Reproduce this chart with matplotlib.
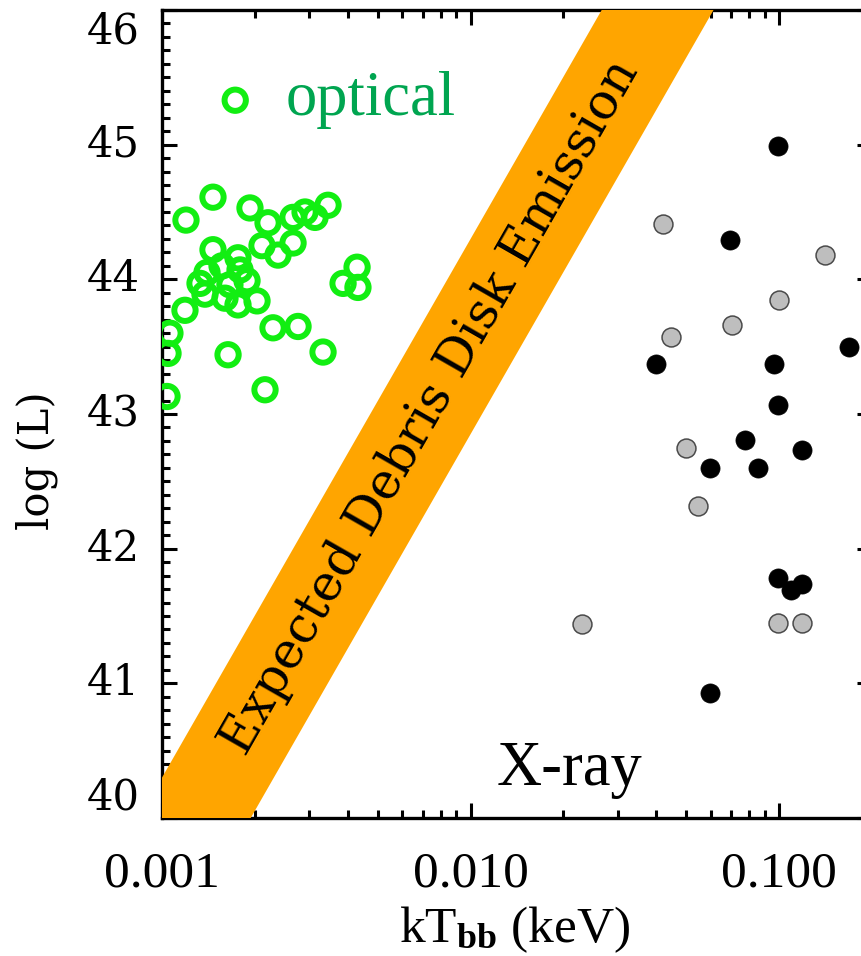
import numpy as np
import matplotlib
matplotlib.use("Agg")
import matplotlib.pyplot as plt
from matplotlib.ticker import FixedLocator, MultipleLocator, NullFormatter, FuncFormatter
from matplotlib.transforms import blended_transform_factory

plt.rcParams["mathtext.fontset"] = "custom"
plt.rcParams["mathtext.rm"] = "Liberation Serif"
plt.rcParams["mathtext.it"] = "Liberation Serif:italic"
plt.rcParams["mathtext.bf"] = "Liberation Serif:bold"

# optical blackbody fits (kT in keV, log L)
optical_kT = [0.001727, 0.001463, 0.001196, 0.001928, 0.002206, 0.002659, 0.002908,
              0.003133, 0.003452, 0.001463, 0.001763, 0.002109, 0.002377, 0.002659,
              0.004287, 0.003862, 0.004316, 0.001187, 0.001061, 0.002290, 0.002760,
              0.001046, 0.001637, 0.003326, 0.001038, 0.002157, 0.001328, 0.001399,
              0.001565, 0.001790, 0.001886, 0.001378, 0.001600, 0.001763, 0.002032,
              0.001660]
optical_logL = [45.33, 44.61, 44.44, 44.53, 44.42, 44.46, 44.50,
                44.46, 44.55, 44.22, 44.16, 44.25, 44.18, 44.27,
                44.09, 43.97, 43.94, 43.77, 43.60, 43.64, 43.65,
                43.45, 43.44, 43.46, 43.13, 43.18, 43.97, 44.05,
                44.10, 44.07, 43.99, 43.89, 43.86, 43.81, 43.84,
                43.96]

# X-ray blackbody fits, two samples
xray_black_kT = [0.0995, 0.0693, 0.1687, 0.0398, 0.0964, 0.0993, 0.0776,
                 0.1190, 0.0597, 0.0853, 0.0995, 0.1090, 0.1190, 0.0597]
xray_black_logL = [44.99, 44.29, 43.50, 43.37, 43.37, 43.07, 42.81,
                   42.73, 42.60, 42.60, 41.78, 41.69, 41.74, 40.93]

xray_gray_kT = [0.0419, 0.1410, 0.1002, 0.0706, 0.0447, 0.0499, 0.0547,
                0.02293, 0.0995, 0.1190]
xray_gray_logL = [44.41, 44.18, 43.85, 43.66, 43.57, 42.75, 42.32,
                  41.44, 41.45, 41.45]

# debris disk band: log L = 4 log kT + c  (L ~ T^4)
band_slope = 4.0
band_c_low = 50.85
band_c_high = 52.30

x_major = [0.001, 0.01, 0.1]
x_major_labels = ["0.001", "0.010", "0.100"]
y_major = [40, 41, 42, 43, 44, 45, 46]

W, H = 862, 956
fig = plt.figure(figsize=(W / 100, H / 100), dpi=100)
ax = fig.add_axes([162 / W, 138 / H, 710 / W, 808 / H])

ax.set_xscale("log")
ax.set_xlim(0.001, 0.2)
ax.set_ylim(40, 46)

# band
xb = np.logspace(-3, np.log10(0.2), 400)
ax.fill_between(xb, band_slope * np.log10(xb) + band_c_low,
                band_slope * np.log10(xb) + band_c_high,
                color="#FFA500", lw=0, zorder=3)

# points
ax.scatter(optical_kT, optical_logL, s=235, facecolors="none",
           edgecolors="#12EE12", linewidths=4.3, zorder=4)
ax.scatter(xray_gray_kT, xray_gray_logL, s=185, facecolors="#BEBEBE",
           edgecolors="#4A4A4A", linewidths=1.1, zorder=4)
ax.scatter(xray_black_kT, xray_black_logL, s=190, facecolors="black",
           edgecolors="black", linewidths=0.5, zorder=4)

# band label, rotated along the band
ang = np.degrees(np.arctan2(band_slope * 808 / 6, 710 / np.log10(200)))
yc = 43.05
xc = 10 ** ((yc - (band_c_low + band_c_high) / 2) / band_slope)
ax.text(xc, yc, "Expected Debris Disk Emission", rotation=ang,
        rotation_mode="anchor", ha="center", va="center",
        fontsize=36, family="DejaVu Serif", color="black", zorder=5)

ax.text(0.00251, 45.33, "optical", fontsize=45, family="Liberation Serif",
        color="#00A550", va="center", ha="left", zorder=5)
ax.text(0.01219, 40.245, "X-ray", fontsize=45, family="Liberation Serif",
        color="black", va="baseline", ha="left", zorder=5)

# ticks
ax.xaxis.set_major_locator(FixedLocator(x_major))
ax.xaxis.set_major_formatter(FuncFormatter(lambda v, p: dict(zip(x_major, x_major_labels)).get(v, "")))
minors = [m * d for d in (0.001, 0.01, 0.1) for m in range(2, 10)]
ax.xaxis.set_minor_locator(FixedLocator(minors))
ax.xaxis.set_minor_formatter(NullFormatter())
ax.yaxis.set_major_locator(FixedLocator(y_major))
ax.yaxis.set_minor_locator(MultipleLocator(0.1))

for s in ax.spines.values():
    s.set_linewidth(2.4)
ax.tick_params(which="both", direction="in", top=True, right=True, width=2.2)
ax.tick_params(which="major", length=11)
ax.tick_params(which="minor", length=5.5)
ax.tick_params(axis="x", which="major", pad=24, labelsize=37)
ax.tick_params(axis="y", labelleft=False)
for lab in ax.get_xticklabels():
    lab.set_family("Liberation Serif")

# y tick labels; the end ones are kept within the frame height
ytrans = blended_transform_factory(ax.transAxes, ax.transData)
for v in y_major:
    va = "top" if v == y_major[-1] else ("bottom" if v == y_major[0] else "center")
    ax.text(-22 / 710, v, str(v), transform=ytrans, ha="right", va=va,
            fontsize=30, family="DejaVu Serif", clip_on=False)

fig.text(37 / W, 1 - 461 / H, "log (L)", rotation=90, ha="center", va="center",
         fontsize=30, family="DejaVu Serif")
fig.text(515 / W, 1 - 930 / H, r"kT$_{\mathbf{bb}}$ (keV)", ha="center", va="center",
         fontsize=37, family="Liberation Serif")

fig.savefig("out.png", dpi=100, facecolor="white")
